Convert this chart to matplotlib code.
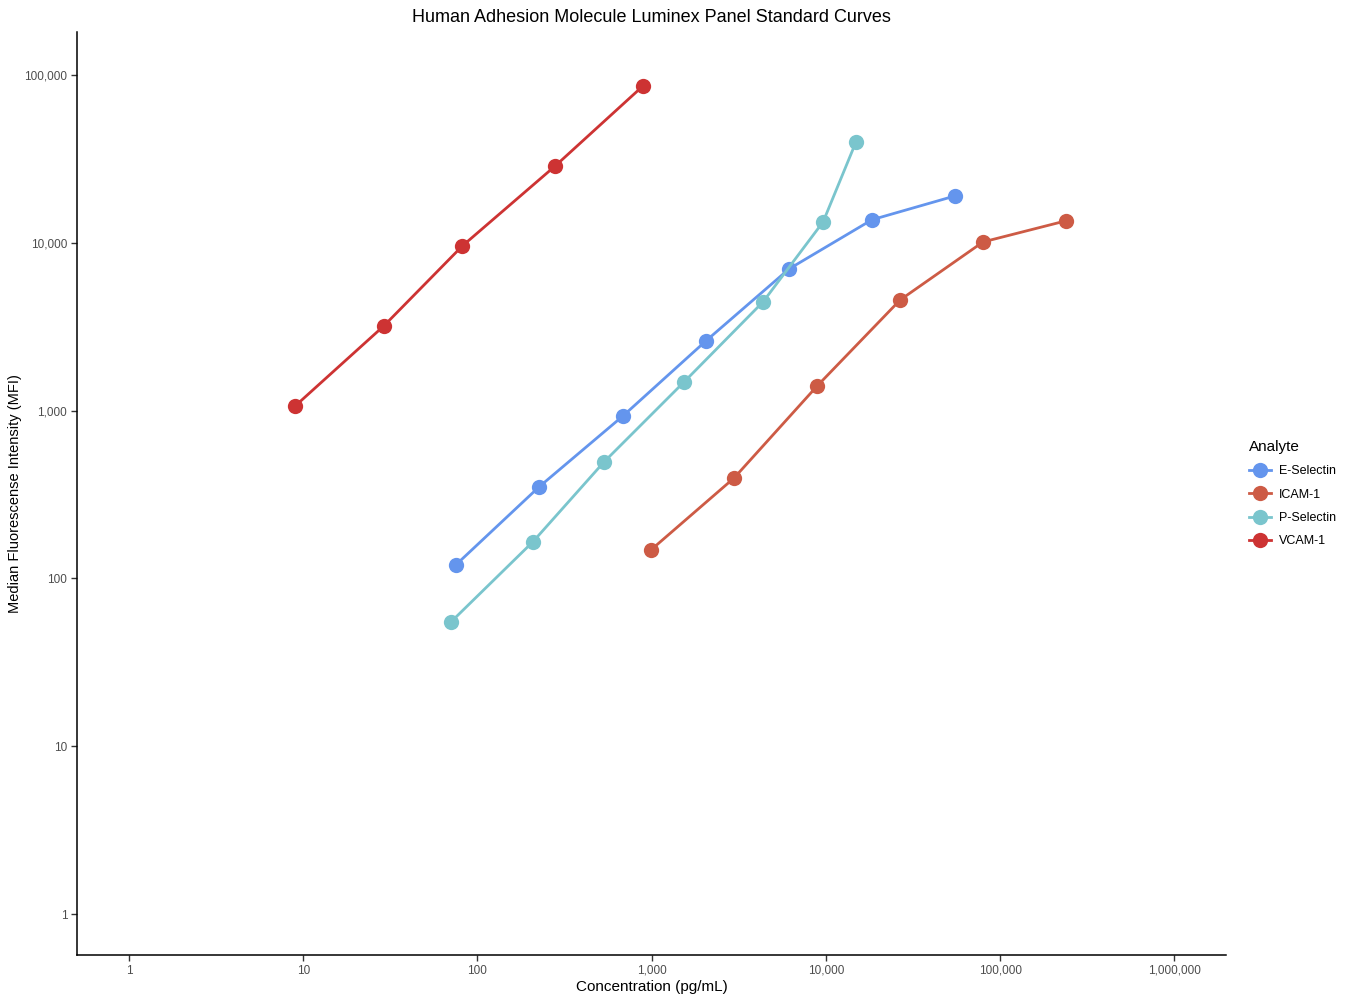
import matplotlib
matplotlib.use("Agg")
import matplotlib.pyplot as plt
from matplotlib.ticker import FixedLocator, FuncFormatter, NullLocator

plt.rcParams["font.family"] = ["Liberation Sans", "DejaVu Sans"]

analytes = ["E-Selectin", "ICAM-1", "P-Selectin", "VCAM-1"]
colors = ["#6495ED", "#CD5B45", "#7AC5CD", "#CD3333"]

e_sel_conc = [75, 226, 685, 2050, 6150, 18400, 55200]
e_sel_mfi = [120, 351, 929, 2600, 6980, 13700, 19000]

icam_conc = [993, 2970, 8910, 26700, 79800, 239000]
icam_mfi = [148, 396, 1400, 4560, 10100, 13500]

p_sel_conc = [70.5, 208, 533, 1535, 4360, 9640, 14900]
p_sel_mfi = [55, 165, 494, 1480, 4440, 13300, 39900]

vcam_conc = [9.0, 29, 82, 280, 893]
vcam_mfi = [1065, 3190, 9570, 28700, 86000]

series = [
    (e_sel_conc, e_sel_mfi),
    (icam_conc, icam_mfi),
    (p_sel_conc, p_sel_mfi),
    (vcam_conc, vcam_mfi),
]

x_ticks = [1, 10, 100, 1000, 10000, 100000, 1000000]
y_ticks = [1, 10, 100, 1000, 10000, 100000]

fig = plt.figure(figsize=(13.5, 10), dpi=100)
ax = fig.add_axes([77 / 1350, 45 / 1000, (1226 - 77) / 1350, (955 - 32) / 1000])

for name, col, (xs, ys) in zip(analytes, colors, series):
    ax.plot(xs, ys, color=col, lw=2.0, marker="o", markersize=11,
            markeredgewidth=0, label=name)

ax.set_xscale("log")
ax.set_yscale("log")
ax.set_xlim(0.503, 1.98e6)
ax.set_ylim(0.57, 1.8e5)

fmt = FuncFormatter(lambda v, p: f"{v:,.0f}")
ax.xaxis.set_major_locator(FixedLocator(x_ticks))
ax.yaxis.set_major_locator(FixedLocator(y_ticks))
ax.xaxis.set_minor_locator(NullLocator())
ax.yaxis.set_minor_locator(NullLocator())
ax.xaxis.set_major_formatter(fmt)
ax.yaxis.set_major_formatter(fmt)

for s in ["top", "right"]:
    ax.spines[s].set_visible(False)
for s in ["left", "bottom"]:
    ax.spines[s].set_linewidth(1.1)
ax.tick_params(axis="both", length=4, width=1, color="#333333",
               labelsize=8.5, labelcolor="#4D4D4D", pad=3)

ax.set_xlabel("Concentration (pg/mL)", fontsize=11, labelpad=2)
ax.set_ylabel("Median Fluorescense Intensity (MFI)", fontsize=10.5)
ax.yaxis.set_label_coords(-0.0479, 0.5)
ax.set_title("Human Adhesion Molecule Luminex Panel Standard Curves",
             fontsize=13, pad=7)

leg = ax.legend(title="Analyte", loc="center left", bbox_to_anchor=(1.010, 0.5),
                frameon=False, fontsize=9, title_fontsize=11,
                handlelength=1.76, handletextpad=0.64, labelspacing=0.92)
leg._legend_box.align = "left"

fig.savefig("out.png", dpi=100)
